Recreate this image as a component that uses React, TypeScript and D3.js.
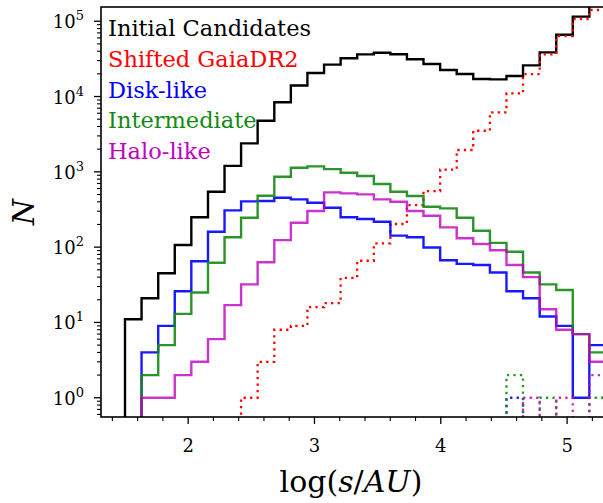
import React from 'react';
import * as d3 from 'd3';

// histogram bin edges in log(s/AU)
const binEdges = [
  1.5, 1.631, 1.763, 1.894, 2.025, 2.157, 2.288, 2.419, 2.55, 2.682,
  2.813, 2.944, 3.076, 3.207, 3.338, 3.47, 3.601, 3.732, 3.863, 3.995,
  4.126, 4.257, 4.389, 4.52, 4.651, 4.783, 4.914, 5.045, 5.176, 5.308,
];

const initialCandidates = [
  11, 21, 45, 107, 249, 544, 1200, 2390, 4770, 8400,
  14000, 20500, 26500, 32200, 36300, 38200, 36500, 31200, 27000, 22500,
  19900, 17100, 16900, 18700, 25900, 38600, 66200, 115000, 250000,
];
const shiftedGaia = [
  0, 0, 0, 0, 0, 0, 0, 1, 3, 8,
  9, 16, 18, 39, 66, 112, 203, 362, 556, 1070,
  1950, 3510, 6170, 11000, 19900, 36300, 63500, 107000, 141000,
];
const diskLike = [
  0, 4, 9, 26, 65, 160, 308, 405, 410, 453,
  431, 389, 334, 249, 236, 217, 142, 135, 99, 67,
  60, 58, 46, 26, 21, 12, 9, 1, 5,
];
const intermediate = [
  0, 2, 5, 13, 25, 62, 135, 246, 482, 861,
  1133, 1183, 1085, 972, 880, 689, 544, 477, 344, 327,
  246, 165, 114, 87, 46, 32, 27, 7, 4,
];
const haloLike = [
  0, 1, 1, 2, 3, 6, 17, 32, 63, 124,
  211, 302, 534, 518, 502, 431, 401, 302, 261, 183,
  131, 110, 91, 58, 40, 15, 8, 7, 3,
];
// shifted counterparts (dotted)
const diskShifted = [
  0, 0, 0, 0, 0, 0, 0, 0, 0, 0,
  0, 0, 0, 0, 0, 0, 0, 0, 0, 0,
  0, 0, 0, 1, 0, 0, 0, 0, 0,
];
const intermediateShifted = [
  0, 0, 0, 0, 0, 0, 0, 0, 0, 0,
  0, 0, 0, 0, 0, 0, 0, 0, 0, 0,
  0, 0, 0, 2, 0, 1, 0, 0, 1,
];
const haloShifted = [
  0, 0, 0, 0, 0, 0, 0, 0, 0, 0,
  0, 0, 0, 0, 0, 0, 0, 0, 0, 0,
  0, 0, 0, 0, 1, 0, 1, 0, 2,
];

const legendLabels = ['Initial Candidates', 'Shifted GaiaDR2', 'Disk-like', 'Intermediate', 'Halo-like'];
const legendColors = ['#000000', '#ff0000', '#0000ff', '#148a14', '#bf00bf'];
const xTickValues = [2, 3, 4, 5];
const yTickExponents = [0, 1, 2, 3, 4, 5];

const margin = { top: 7, right: 605, bottom: 417, left: 101 };
const FONT = '"DejaVu Serif", serif';

const x = d3.scaleLinear().domain([1.31, 5.3]).range([margin.left, margin.right]);
const y = d3.scaleLog().domain([0.555, 154500]).range([margin.bottom, margin.top]);

function stepPath(values: number[]) {
  const floor = y(1e-3);
  const pts: [number, number][] = [[x(binEdges[0]), floor]];
  values.forEach((v, i) => {
    const yy = v > 0 ? y(v) : floor;
    pts.push([x(binEdges[i]), yy]);
    pts.push([x(binEdges[i + 1]), yy]);
  });
  pts.push([x(binEdges[binEdges.length - 1]), floor]);
  return d3.line()(pts) || '';
}

export default function App() {
  const xMinor = d3.range(1.4, 5.31, 0.2).filter(v => Math.abs(v - Math.round(v)) > 0.01);
  const yMinor: number[] = [];
  for (let k = -1; k <= 5; k++) {
    for (let m = 2; m <= 9; m++) {
      const v = m * Math.pow(10, k);
      if (v > y.domain()[0] && v < y.domain()[1]) yMinor.push(v);
    }
  }

  const series = [
    { data: initialCandidates, color: '#000000', opacity: 1 },
    { data: shiftedGaia, color: '#ff0000', opacity: 1, dotted: true },
    { data: diskLike, color: '#0000ff', opacity: 0.9 },
    { data: intermediate, color: '#148a14', opacity: 0.9 },
    { data: haloLike, color: '#bf00bf', opacity: 0.8 },
    { data: diskShifted, color: '#0000ff', opacity: 0.9, dotted: true },
    { data: intermediateShifted, color: '#148a14', opacity: 0.9, dotted: true },
    { data: haloShifted, color: '#bf00bf', opacity: 0.85, dotted: true },
  ];

  return (
    <svg width={603} height={503} style={{ position: 'absolute', left: 0, top: 0, background: '#fff' }}
      fontFamily={FONT}>
      <defs>
        <clipPath id="plot-area">
          <rect x={margin.left} y={margin.top} width={margin.right - margin.left} height={margin.bottom - margin.top} />
        </clipPath>
      </defs>

      <g clipPath="url(#plot-area)">
        {series.map((s, i) => (
          <path key={i} d={stepPath(s.data)} fill="none" stroke={s.color} strokeOpacity={s.opacity}
            strokeWidth={s.dotted ? 2.3 : 2.4} strokeDasharray={s.dotted ? '2.3 4.2' : undefined}
            strokeLinejoin="miter" />
        ))}
      </g>

      {/* spines */}
      <rect x={margin.left} y={margin.top} width={margin.right - margin.left} height={margin.bottom - margin.top}
        fill="none" stroke="#000" strokeWidth={1.6} />

      {/* x ticks */}
      {xTickValues.map(v => (
        <g key={v}>
          <line x1={x(v)} x2={x(v)} y1={margin.bottom} y2={margin.bottom + 7} stroke="#000" strokeWidth={1.3} />
          <text x={x(v)} y={452} textAnchor="middle" fontSize={18}>{v}</text>
        </g>
      ))}
      {xMinor.map(v => (
        <line key={v} x1={x(v)} x2={x(v)} y1={margin.bottom} y2={margin.bottom + 4} stroke="#000" strokeWidth={1.1} />
      ))}

      {/* y ticks */}
      {yTickExponents.map(k => (
        <g key={k}>
          <line x1={margin.left - 7} x2={margin.left} y1={y(Math.pow(10, k))} y2={y(Math.pow(10, k))} stroke="#000" strokeWidth={1.3} />
          <text x={84} y={y(Math.pow(10, k)) + 7} textAnchor="end" fontSize={18}>
            <tspan>10</tspan>
            <tspan dy={-8} fontSize={13}>{k}</tspan>
          </text>
        </g>
      ))}
      {yMinor.map(v => (
        <line key={v} x1={margin.left - 4} x2={margin.left} y1={y(v)} y2={y(v)} stroke="#000" strokeWidth={1.1} />
      ))}

      {/* axis labels */}
      <text x={351} y={492} textAnchor="middle" fontSize={30}>
        log(<tspan fontStyle="italic">s</tspan>/<tspan fontStyle="italic">AU</tspan>)
      </text>
      <text transform="translate(34,212) rotate(-90)" textAnchor="middle" fontSize={30} fontStyle="italic">N</text>

      {/* legend */}
      {legendLabels.map((label, i) => (
        <text key={label} x={108} y={36 + i * 30.8} fontSize={22.5} fill={legendColors[i]}>{label}</text>
      ))}
    </svg>
  );
}
